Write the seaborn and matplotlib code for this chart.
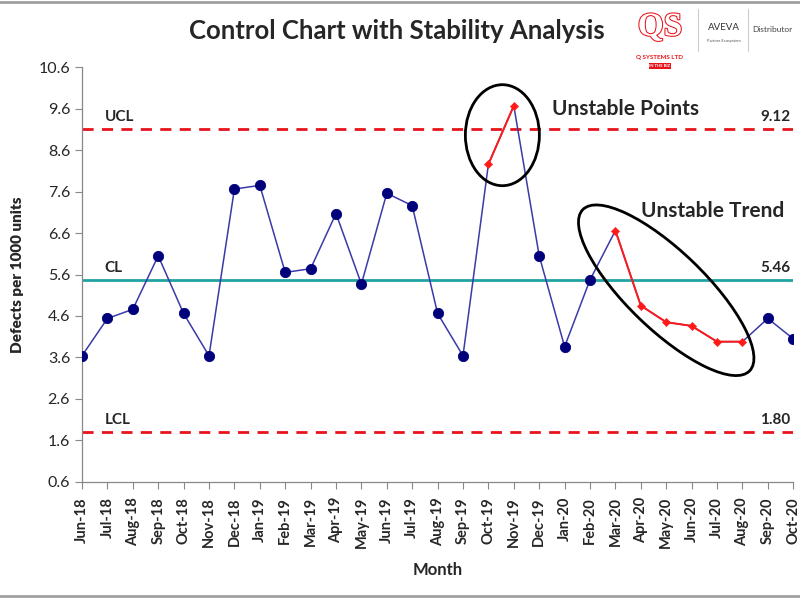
import numpy as np
import pandas as pd
import matplotlib.pyplot as plt
import matplotlib.transforms as mtransforms
import matplotlib.patheffects as pe
from matplotlib.patches import Ellipse
import seaborn as sns

# Data
months = ['Jun-18', 'Jul-18', 'Aug-18', 'Sep-18', 'Oct-18', 'Nov-18', 'Dec-18',
          'Jan-19', 'Feb-19', 'Mar-19', 'Apr-19', 'May-19', 'Jun-19', 'Jul-19',
          'Aug-19', 'Sep-19', 'Oct-19', 'Nov-19', 'Dec-19', 'Jan-20', 'Feb-20',
          'Mar-20', 'Apr-20', 'May-20', 'Jun-20', 'Jul-20', 'Aug-20', 'Sep-20', 'Oct-20']
defects = [3.64, 4.54, 4.76, 6.05, 4.66, 3.64, 7.66, 7.75, 5.65, 5.74, 7.07, 5.37,
           7.56, 7.26, 4.66, 3.64, 8.26, 9.67, 6.05, 3.86, 5.47, 6.66, 4.85, 4.45,
           4.36, 3.98, 3.98, 4.54, 4.05]
unstable_points = ['Oct-19', 'Nov-19']
unstable_trend = ['Mar-20', 'Apr-20', 'May-20', 'Jun-20', 'Jul-20', 'Aug-20']
ucl, cl, lcl = 9.12, 5.46, 1.80
yticks = [0.6, 1.6, 2.6, 3.6, 4.6, 5.6, 6.6, 7.6, 8.6, 9.6, 10.6]

df = pd.DataFrame({'month': months, 'defects': defects})
df['x'] = np.arange(len(df))
df['unstable'] = df['month'].isin(unstable_points + unstable_trend)

sns.set_style("ticks")
plt.rcParams['font.family'] = ['Lato', 'DejaVu Sans']

fig = plt.figure(figsize=(8, 6), dpi=100)
ax = fig.add_axes([0.1025, 0.197, 0.889, 0.691])

navy = '#00007a'
line_blue = '#3a3aa8'
red = '#ff1a1a'

# main series
sns.lineplot(data=df, x='x', y='defects', color=line_blue, lw=1.1, ax=ax, zorder=3)
sns.scatterplot(data=df[~df['unstable']], x='x', y='defects', color=navy, s=55,
                edgecolor=navy, ax=ax, zorder=5)

# unstable segments
for grp in (unstable_points, unstable_trend):
    seg = df[df['month'].isin(grp)]
    sns.lineplot(data=seg, x='x', y='defects', color=red, lw=1.4, ax=ax, zorder=4)
sns.scatterplot(data=df[df['unstable']], x='x', y='defects', color=red, marker='D',
                s=18, edgecolor=red, ax=ax, zorder=6)

# control limits
ax.axhline(ucl, color='#e8141c', ls=(0, (4, 3)), lw=2, zorder=2)
ax.axhline(lcl, color='#e8141c', ls=(0, (4, 3)), lw=2, zorder=2)
ax.axhline(cl, color='#21a3a3', lw=2, zorder=2)

lab_font = dict(fontsize=11, fontweight='bold')
ax.text(0.9, ucl + 0.12, 'UCL', ha='left', va='bottom', **lab_font)
ax.text(0.9, cl + 0.12, 'CL', ha='left', va='bottom', **lab_font)
ax.text(0.9, lcl + 0.12, 'LCL', ha='left', va='bottom', **lab_font)
ax.text(27.9, ucl + 0.12, f'{ucl:.2f}', ha='right', va='bottom', **lab_font)
ax.text(27.9, cl + 0.12, f'{cl:.2f}', ha='right', va='bottom', **lab_font)
ax.text(27.9, lcl + 0.12, f'{lcl:.2f}', ha='right', va='bottom', **lab_font)

ann_font = dict(fontsize=15, fontweight='bold')
ax.text(18.5, 9.6, 'Unstable Points', ha='left', va='center', **ann_font)
ax.text(22.0, 7.13, 'Unstable Trend', ha='left', va='center', **ann_font)

# ellipses around unstable regions (size in inches, centre in data units)
def ring(xc, yc, w, h, angle):
    tr = fig.dpi_scale_trans + mtransforms.ScaledTranslation(xc, yc, ax.transData)
    ax.add_patch(Ellipse((0, 0), w, h, angle=angle, fill=False, ec='black',
                         lw=2, transform=tr, zorder=7, clip_on=False))

ax.set_xlim(0, len(months) - 1)
ax.set_ylim(0.6, 10.6)
ring(16.55, 8.96, 0.74, 1.01, 0)
ring(23.0, 5.22, 2.32, 0.78, -44)

ax.set_xticks(df['x'])
ax.set_xticklabels(months, rotation=90, fontsize=10.5, fontweight='bold')
ax.set_yticks(yticks)
ax.set_yticklabels([f'{v:.1f}' for v in yticks], fontsize=11.5)
ax.tick_params(axis='both', direction='out', length=5, color='#888888', width=0.8)
ax.tick_params(axis='x', pad=6)
for s in ['left', 'bottom']:
    ax.spines[s].set_color('#888888')
    ax.spines[s].set_linewidth(0.9)
sns.despine(ax=ax)

ax.set_xlabel('Month', fontsize=12, fontweight='bold', labelpad=10)
ax.set_ylabel('Defects per 1000 units', fontsize=11, fontweight='heavy')
ax.yaxis.set_label_coords(-0.082, 0.5)

fig.text(0.496, 0.948, 'Control Chart with Stability Analysis', ha='center',
         va='center', fontsize=18.5, fontweight='bold')

# logo block
qs = fig.text(0.825, 0.955, 'QS', ha='center', va='center', fontsize=24, color='white',
              fontweight='bold', family=['Liberation Serif', 'DejaVu Serif'])
qs.set_path_effects([pe.withStroke(linewidth=1.5, foreground='#e8141c')])
fig.text(0.825, 0.905, 'Q SYSTEMS LTD', ha='center', va='center', fontsize=4.5,
         color='#e8141c', fontweight='bold')
fig.text(0.825, 0.89, 'IN THE BIZ', ha='center', va='center', fontsize=3,
         color='white', fontweight='bold',
         bbox=dict(boxstyle='square,pad=0.15', fc='#e8141c', ec='none'))
fig.add_artist(plt.Line2D([0.872, 0.872], [0.915, 0.985], color='#cccccc', lw=0.8))
fig.text(0.905, 0.955, 'AVEVA', ha='center', va='center', fontsize=7, color='#333333')
fig.text(0.905, 0.932, 'Partner Ecosystem', ha='center', va='center', fontsize=3,
         color='#555555')
fig.add_artist(plt.Line2D([0.935, 0.935], [0.915, 0.985], color='#cccccc', lw=0.8))
fig.text(0.965, 0.950, 'Distributor', ha='center', va='center', fontsize=6,
         color='#444444')

# frame lines at top and bottom
fig.add_artist(plt.Line2D([0, 1], [0.997, 0.997], color='#a0a0a0', lw=2))
fig.add_artist(plt.Line2D([0, 1], [0.006, 0.006], color='#a0a0a0', lw=2))

fig.savefig('out.png', dpi=100)
